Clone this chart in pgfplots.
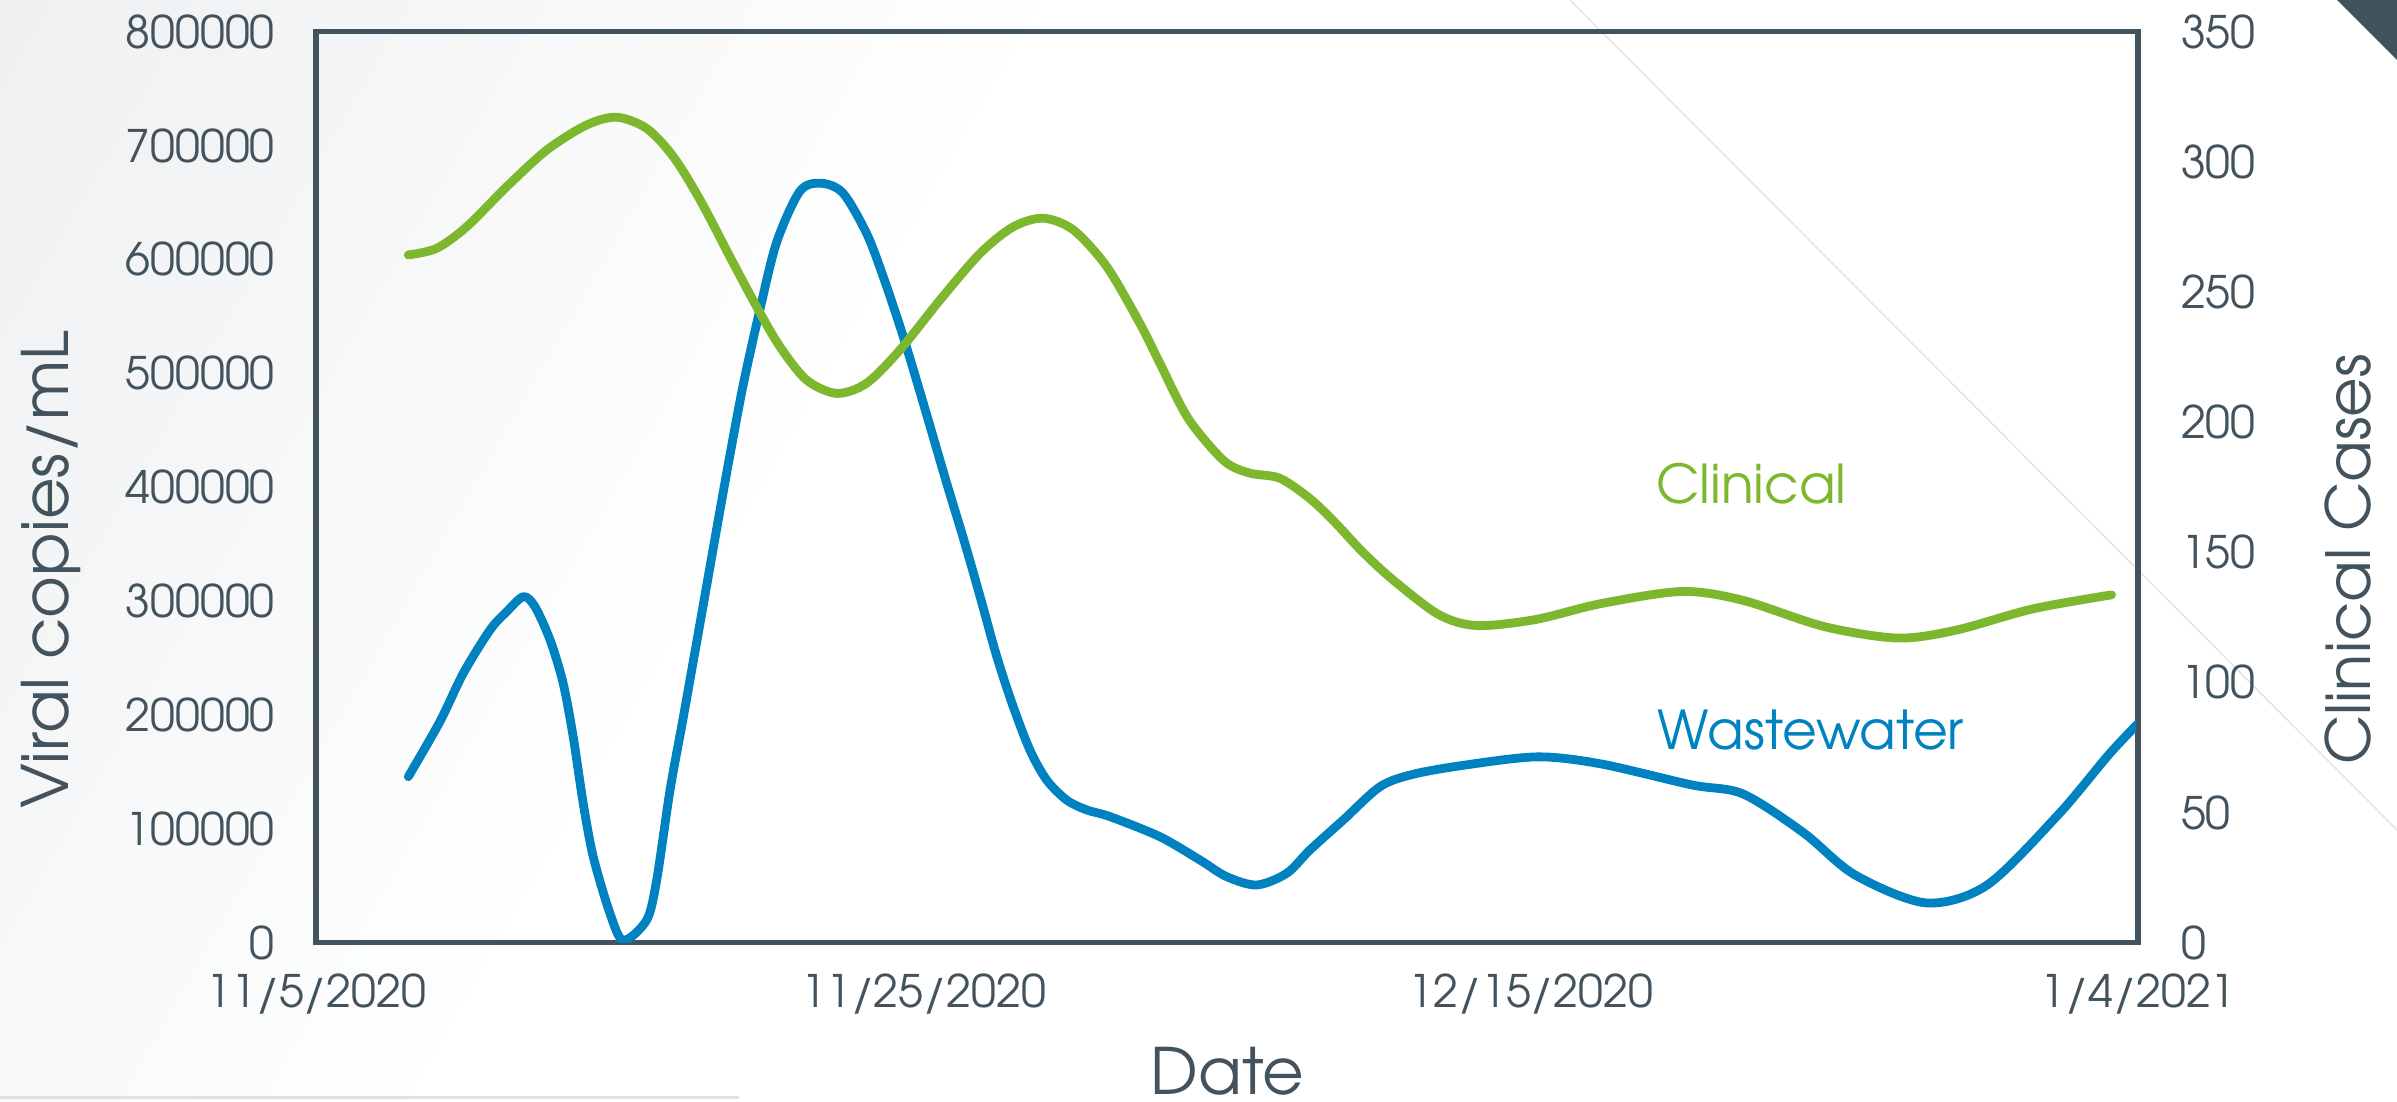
\documentclass[border=0pt]{standalone}
\usepackage{pgfplots}
\pgfplotsset{compat=1.18}
\usepackage{fontspec}
\setmainfont{texgyreadventor}[Extension=.otf, UprightFont=*-regular, BoldFont=*-bold]
\definecolor{ink}{HTML}{43535E}
\definecolor{ww}{HTML}{0082C0}
\definecolor{cl}{HTML}{7CB72E}
\definecolor{bgl}{HTML}{E3E6E8}
\pgfdeclarehorizontalshading{slide}{100bp}{color(0bp)=(bgl); color(40bp)=(white); color(100bp)=(white)}

\begin{document}
\begin{tikzpicture}
% slide background (1px = 0.25pt, origin at lower left of plot box)
\shade[shading=slide, shading angle=-30] (-79.075pt,-39.85pt) rectangle (520.175pt,235.65pt);
\draw[black!12, line width=0.3pt] (313.4pt,235.65pt) -- (520.175pt,28.15pt);
\draw[black!12, line width=0.75pt] (-79.075pt,-38.7pt) -- (105.7pt,-38.7pt);
\fill[ink] (505.2pt,235.65pt) -- (520.175pt,235.65pt) -- (520.175pt,220.65pt) -- cycle;

\pgfplotsset{
  chartbase/.style={
    at={(0,0)}, anchor=south west,
    scale only axis, width=455.5pt, height=227.75pt,
    xmin=0, xmax=60,
    axis line style={ink, line width=1.4pt},
    major tick length=0pt,
    tick label style={ink, inner sep=0pt, font=\fontsize{11.2}{13}\selectfont},
    label style={ink, font=\fontsize{16}{19}\selectfont},
    /pgf/number format/assume math mode=true,
    scaled y ticks=false,
    yticklabel style={/pgf/number format/.cd, fixed, 1000 sep={}},
  },
  curve/.style={line width=2.2pt, smooth, tension=0.5, line cap=round, line join=round},
}

\begin{axis}[chartbase,
  ymin=0, ymax=800000,
  ytick={0,100000,...,800000},
  xtick={0,20,40,60},
  xticklabels={11/5/2020,11/25/2020,12/15/2020,1/4/2021},
  xticklabel shift=7.6pt,
  yticklabel shift=10.2pt,
  xlabel={Date},
  ylabel={Viral copies/mL},
  xlabel style={at={(axis description cs:0.5,-0.1662)}, anchor=base},
  ylabel style={at={(axis description cs:-0.1358,0.409)}, anchor=base},
]
\addplot[ww, curve] coordinates {
(3.03,145700) (4.07,194000) (4.84,236500) (5.72,274500) (6.27,290600)
(6.82,303800) (7.20,295000) (7.70,265700) (8.13,227700) (8.46,180800)
(8.79,122300) (9.12,75400) (9.67,25700) (10.11,2000) (10.88,19800)
(11.21,55000) (11.65,134000) (12.09,198400) (12.64,281000) (13.19,364000)
(13.60,425000) (14.06,490000) (14.61,556000) (15.16,615000) (15.93,660000)
(16.64,666800) (17.35,658000) (18.12,622900) (18.67,584800) (19.33,532100)
(19.99,473600) (20.76,403400) (21.31,355000) (21.86,303800) (22.41,251100)
(22.95,207200) (23.50,169100) (24.05,142800) (24.71,125200) (25.37,116500)
(26.14,110600) (27.78,93000) (29.10,72500) (29.98,57900) (30.97,50600)
(31.96,60900) (32.72,81300) (33.82,107700) (35.03,136900) (36.1,147700)
(37.78,155700) (40.2,163100) (42.29,157000) (45.29,138500) (46.98,130600)
(48.97,96600) (50.66,59600) (53.0,34900) (55.01,50300) (57.36,112200)
(59.03,165100) (60.0,192600)
};
\node[anchor=base west, text=ww, inner sep=0pt, font=\fontsize{13.4}{16}\selectfont] at (axis cs:44.15,170000) {Wastewater};
\node[anchor=base west, text=cl, inner sep=0pt, font=\fontsize{13.4}{16}\selectfont] at (axis cs:44.1,386000) {Clinical};
\end{axis}

\begin{axis}[chartbase,
  ymin=0, ymax=350,
  ytick={0,50,...,350},
  axis y line*=right,
  axis x line=none,
  yticklabel shift=10.5pt,
  ylabel={Clinical Cases},
  ylabel style={at={(axis description cs:1.1273,0.4205)}, anchor=base, font=\fontsize{15.2}{18}\selectfont},
]
\addplot[cl, curve] coordinates {
(3.03,264.2) (3.96,266.7) (4.95,275.0) (6.27,290.4) (7.59,304.5)
(8.90,314.1) (9.89,317.1) (10.88,312.8) (11.76,301.9) (12.64,285.3)
(13.62,263.5) (14.50,244.3) (15.27,228.9) (16.15,216.1) (17.14,211.0)
(18.12,214.9) (19.22,227.7) (20.54,246.9) (21.86,264.8) (22.95,275.0)
(23.94,278.3) (24.93,273.8) (26.03,259.7) (27.12,237.9) (27.78,222.6)
(28.71,201.4) (29.88,185.2) (30.73,180.4) (31.73,178.4) (32.74,170.4)
(33.58,161) (34.42,150.5) (35.43,139.6) (36.95,126.1) (38.21,121.8)
(40.14,124.1) (42.29,130.2) (44.97,134.9) (46.98,131.5) (49.66,121.4)
(52.09,117) (54.02,120.1) (56.52,128.2) (59.12,133.6)
};
\end{axis}

\pgfresetboundingbox
\path (-79.075pt,-39.85pt) rectangle (520.175pt,235.65pt);
\end{tikzpicture}
\end{document}
